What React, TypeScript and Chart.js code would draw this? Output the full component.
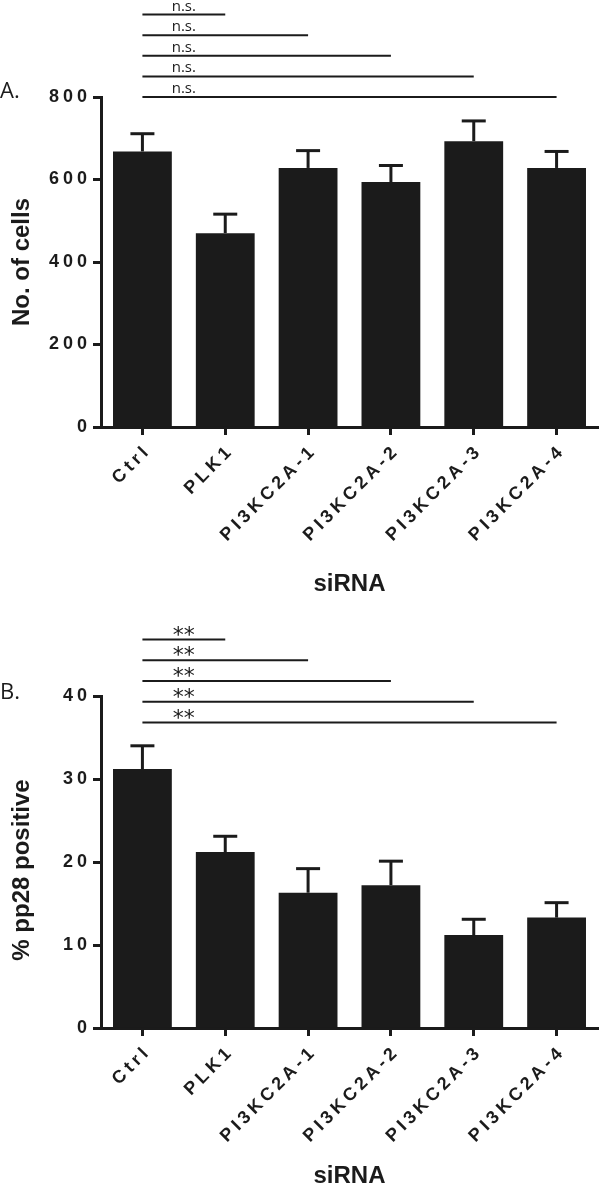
import React, { useEffect, useRef } from 'react';
import { Chart, registerables } from 'chart.js';

Chart.register(...registerables);

// ---------- data ----------
const categories = ['Ctrl', 'PLK1', 'PI3KC2A-1', 'PI3KC2A-2', 'PI3KC2A-3', 'PI3KC2A-4'];

const cellsMean = [668, 470, 628, 594, 693, 628];
const cellsErr = [43, 46, 42, 40, 49, 40];
const cellsTicks = [0, 200, 400, 600, 800];
const cellsSigLevels = [1000, 950, 900, 850, 800];
const cellsSigLabel = 'n.s.';

const pp28Mean = [31.2, 21.2, 16.3, 17.2, 11.2, 13.3];
const pp28Err = [2.8, 1.9, 2.9, 2.9, 1.9, 1.8];
const pp28Ticks = [0, 10, 20, 30, 40];
const pp28SigLevels = [46.8, 44.3, 41.8, 39.3, 36.8];
const pp28SigLabel = '**';

const INK = '#1b1b1b';
const TICK_FONT = { family: 'Liberation Sans', size: 18, weight: 'bold' as const };
const TICK_SPACING = '4px';

type PanelCfg = {
  height: number;
  top: number;
  bottom: number;
  means: number[];
  errs: number[];
  ticks: number[];
  sigLevels: number[];
  sigLabel: string;
  sigFont: string;
  panelLabel: string;
  panelLabelY: number;
  xTitle: string;
  xTitleOffset: number;
  yTitle: string;
  yTitleShift: number;
};

function makeOverlay(cfg: PanelCfg) {
  return {
    id: 'overlay',
    beforeDraw(chart: any) {
      (chart.ctx as any).letterSpacing = TICK_SPACING;
    },
    afterDatasetsDraw(chart: any) {
      const ctx = chart.ctx;
      const meta = chart.getDatasetMeta(0);
      const ys = chart.scales.y;
      ctx.save();
      ctx.strokeStyle = INK;
      ctx.lineWidth = 3;
      meta.data.forEach((bar: any, i: number) => {
        const x = bar.x;
        const yTop = ys.getPixelForValue(cfg.means[i]);
        const yCap = ys.getPixelForValue(cfg.means[i] + cfg.errs[i]);
        ctx.beginPath();
        ctx.moveTo(x, yTop);
        ctx.lineTo(x, yCap);
        ctx.stroke();
        ctx.beginPath();
        ctx.moveTo(x - 12, yCap);
        ctx.lineTo(x + 12, yCap);
        ctx.stroke();
      });
      ctx.restore();
    },
    afterDraw(chart: any) {
      const ctx = chart.ctx;
      const xs = chart.scales.x;
      const ys = chart.scales.y;
      const area = chart.chartArea;
      ctx.save();
      (ctx as any).letterSpacing = '0px';
      // significance brackets
      const x0 = xs.getPixelForValue(0);
      const textX = (x0 + xs.getPixelForValue(1)) / 2;
      cfg.sigLevels.forEach((lvl, k) => {
        const y = ys.getPixelForValue(lvl);
        const x1 = xs.getPixelForValue(k + 1);
        ctx.strokeStyle = INK;
        ctx.lineWidth = 2;
        ctx.beginPath();
        ctx.moveTo(x0, y);
        ctx.lineTo(x1, y);
        ctx.stroke();
        ctx.fillStyle = INK;
        ctx.font = cfg.sigFont;
        ctx.textAlign = 'center';
        ctx.textBaseline = 'alphabetic';
        const m = ctx.measureText(cfg.sigLabel);
        const base = y - 4 - m.actualBoundingBoxDescent;
        ctx.fillText(cfg.sigLabel, textX, base);
      });
      // panel label
      ctx.fillStyle = INK;
      ctx.font = '22px "Open Sans"';
      ctx.textAlign = 'left';
      ctx.textBaseline = 'middle';
      ctx.fillText(cfg.panelLabel, 0, cfg.panelLabelY);
      // axis titles
      ctx.font = 'bold 24px "Liberation Sans"';
      ctx.textAlign = 'center';
      ctx.textBaseline = 'middle';
      ctx.fillText(cfg.xTitle, (area.left + area.right) / 2, area.bottom + cfg.xTitleOffset);
      ctx.translate(22, (area.top + area.bottom) / 2 + cfg.yTitleShift);
      ctx.rotate(-Math.PI / 2);
      ctx.fillText(cfg.yTitle, 0, 0);
      ctx.restore();
    },
  };
}

function Panel({ cfg }: { cfg: PanelCfg }) {
  const ref = useRef<HTMLCanvasElement | null>(null);
  useEffect(() => {
    const canvas = ref.current;
    if (!canvas) return;
    const ymax = cfg.ticks[cfg.ticks.length - 1];
    const chart = new Chart(canvas.getContext('2d') as CanvasRenderingContext2D, {
      type: 'bar',
      data: {
        labels: categories,
        datasets: [
          {
            data: cfg.means,
            backgroundColor: INK,
            borderWidth: 0,
            barPercentage: 0.71,
            categoryPercentage: 1,
          },
        ],
      },
      options: {
        animation: false,
        responsive: false,
        maintainAspectRatio: false,
        layout: { padding: { top: cfg.top, right: 2, left: 0, bottom: 0 } },
        plugins: { legend: { display: false }, tooltip: { enabled: false } },
        scales: {
          x: {
            grid: {
              display: true,
              drawOnChartArea: false,
              offset: false,
              tickLength: 8,
              tickWidth: 3,
              tickColor: INK,
            },
            border: { display: true, width: 3, color: INK },
            ticks: {
              minRotation: 45,
              maxRotation: 45,
              autoSkip: false,
              font: TICK_FONT,
              color: INK,
              padding: 5,
              labelOffset: 6,
            },
            afterFit: (s: any) => {
              s.height = cfg.height - cfg.bottom;
            },
          },
          y: {
            min: 0,
            max: ymax,
            afterBuildTicks: (s: any) => {
              s.ticks = cfg.ticks.map((v) => ({ value: v }));
            },
            grid: {
              display: true,
              drawOnChartArea: false,
              tickLength: 8,
              tickWidth: 3,
              tickColor: INK,
            },
            border: { display: true, width: 3, color: INK },
            ticks: { font: TICK_FONT, color: INK, padding: 2 },
            afterFit: (s: any) => {
              s.width = 101;
            },
          },
        },
      },
      plugins: [makeOverlay(cfg)],
    });
    return () => chart.destroy();
  }, [cfg]);
  return (
    <canvas
      ref={ref}
      width={600}
      height={cfg.height}
      style={{ display: 'block', width: 600, height: cfg.height }}
    />
  );
}

const panelA: PanelCfg = {
  height: 595,
  top: 97,
  bottom: 427,
  means: cellsMean,
  errs: cellsErr,
  ticks: cellsTicks,
  sigLevels: cellsSigLevels,
  sigLabel: cellsSigLabel,
  sigFont: '15px "Open Sans"',
  panelLabel: 'A.',
  panelLabelY: 92,
  xTitle: 'siRNA',
  xTitleOffset: 157,
  yTitle: 'No. of cells',
  yTitleShift: 0,
};

const panelB: PanelCfg = {
  height: 594,
  top: 101,
  bottom: 433,
  means: pp28Mean,
  errs: pp28Err,
  ticks: pp28Ticks,
  sigLevels: pp28SigLevels,
  sigLabel: pp28SigLabel,
  sigFont: '22px "DejaVu Sans"',
  panelLabel: 'B.',
  panelLabelY: 98,
  xTitle: 'siRNA',
  xTitleOffset: 148,
  yTitle: '% pp28 positive',
  yTitleShift: 8,
};

export default function App() {
  return (
    <div
      style={{
        position: 'absolute',
        left: 0,
        top: 0,
        width: 600,
        height: 1189,
        background: '#ffffff',
        overflow: 'hidden',
      }}
    >
      <Panel cfg={panelA} />
      <Panel cfg={panelB} />
    </div>
  );
}
